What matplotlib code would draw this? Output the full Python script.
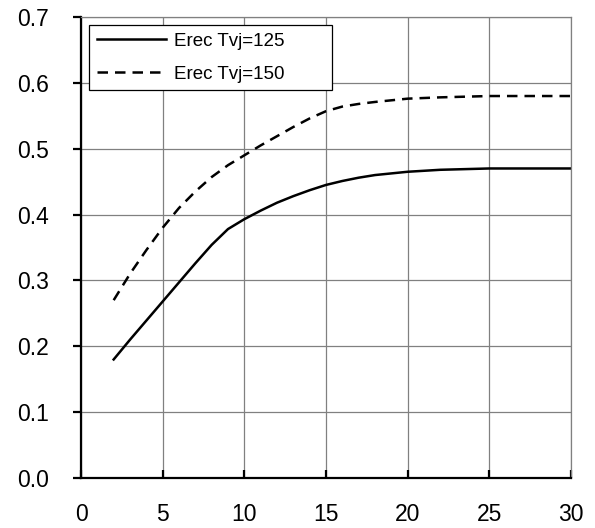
import matplotlib
matplotlib.use("Agg")
import matplotlib.pyplot as plt
from matplotlib.ticker import FormatStrFormatter

# current (x) and Erec values
x_vals = [2, 3, 4, 5, 6, 7, 8, 9, 10, 11, 12, 13, 14, 15, 16, 17, 18, 20, 22, 25, 28, 30]
erec_125 = [0.18, 0.21, 0.239, 0.268, 0.297, 0.326, 0.354, 0.378, 0.393, 0.406, 0.418, 0.428,
            0.437, 0.445, 0.451, 0.456, 0.46, 0.465, 0.468, 0.47, 0.47, 0.47]
erec_150 = [0.27, 0.31, 0.346, 0.38, 0.41, 0.435, 0.457, 0.475, 0.49, 0.505, 0.519, 0.533,
            0.546, 0.557, 0.564, 0.568, 0.571, 0.576, 0.578, 0.58, 0.58, 0.58]
labels = ["Erec Tvj=125", "Erec Tvj=150"]

x_ticks = [0, 5, 10, 15, 20, 25, 30]
y_ticks = [0.0, 0.1, 0.2, 0.3, 0.4, 0.5, 0.6, 0.7]

plt.rcParams.update({
    "font.family": ["Liberation Sans", "DejaVu Sans"],
    "font.size": 16.5,
})

fig = plt.figure(figsize=(5.95, 5.28), dpi=100)
# axes box in pixels: x 81..571, y 17..478
ax = fig.add_axes([81 / 595, 1 - 478 / 528, 490 / 595, 461 / 528])

ax.plot(x_vals, erec_125, color="black", lw=1.8, label=labels[0])
ax.plot(x_vals, erec_150, color="black", lw=1.8, ls=(0, (4.2, 2.8)), label=labels[1])

ax.set_xlim(0, 30)
ax.set_ylim(0, 0.7)
ax.set_xticks(x_ticks)
ax.set_yticks(y_ticks)
ax.yaxis.set_major_formatter(FormatStrFormatter("%.1f"))
ax.grid(True, color="#808080", lw=0.9)
ax.set_axisbelow(True)

for side in ["left", "bottom"]:
    ax.spines[side].set_color("black")
    ax.spines[side].set_linewidth(1.6)
for side in ["top", "right"]:
    ax.spines[side].set_color("#808080")
    ax.spines[side].set_linewidth(0.9)

ax.tick_params(axis="y", direction="out", length=6, width=1.6, pad=17, labelsize=16.5)
ax.tick_params(axis="x", direction="in", length=6, width=1.6, pad=18, labelsize=16.5)

leg = ax.legend(loc="upper left", bbox_to_anchor=(8 / 490, 453 / 461, 243 / 490, 0),
                mode="expand", borderaxespad=0, fancybox=False, framealpha=1,
                edgecolor="black", fontsize=13.5, handlelength=3.7, handletextpad=0.43,
                labelspacing=0.85, borderpad=0.4)
leg.get_frame().set_linewidth(0.9)

fig.savefig("out.png", dpi=100)
